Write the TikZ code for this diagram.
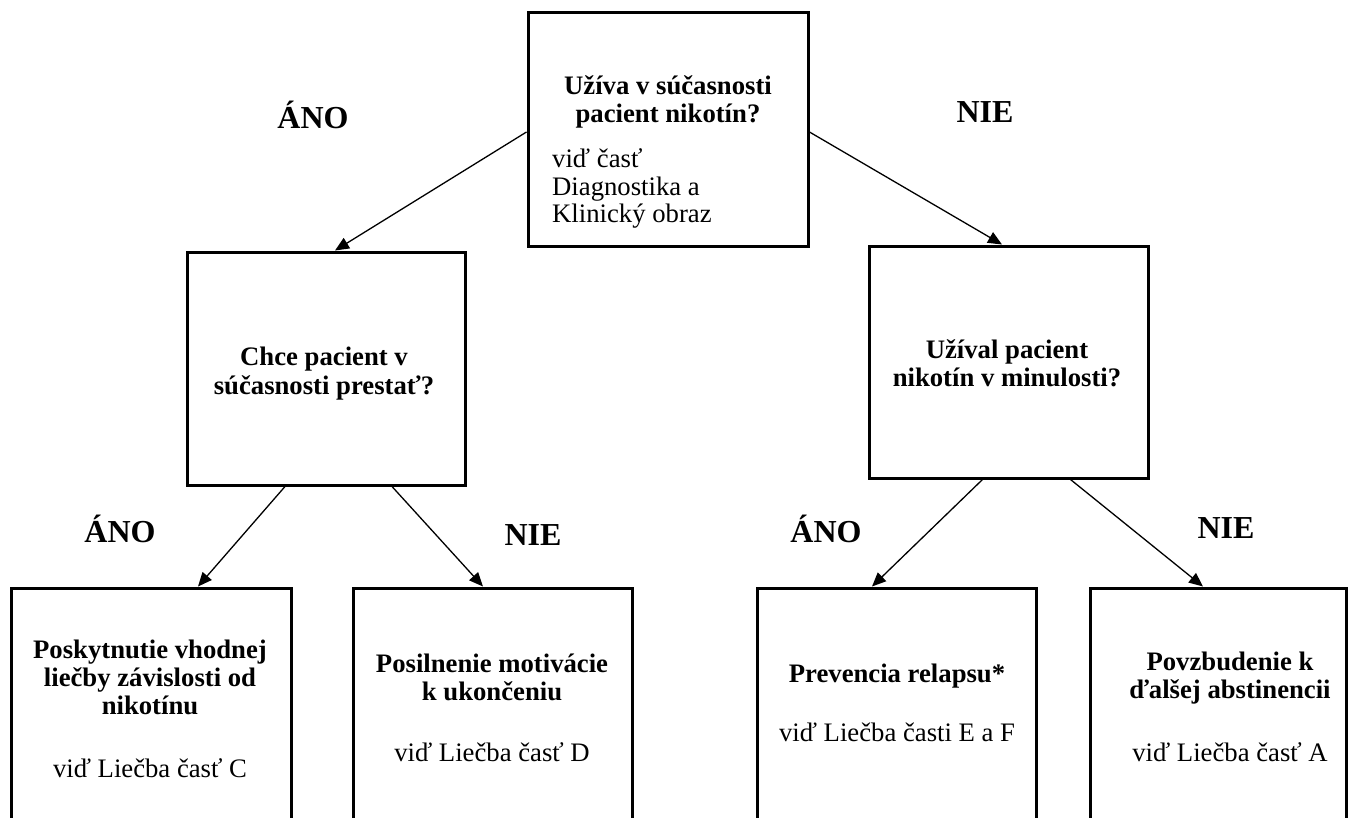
\documentclass[tikz,border=0pt]{standalone}
\usepackage{fontspec}
\setmainfont{Liberation Serif}
\usetikzlibrary{arrows.meta,calc}
\begin{document}
\begin{tikzpicture}[x=1pt,y=-1pt,
  box/.style={draw,line width=3pt,inner sep=0pt,rectangle},
  arr/.style={line width=1.3pt,-{Triangle[length=14pt,width=12pt]}},
  lab/.style={font=\fontsize{32}{36}\selectfont\bfseries,anchor=base,inner sep=0pt},
  bt/.style={font=\fontsize{26.7}{28}\selectfont\bfseries,anchor=base,inner sep=0pt},
  rt/.style={font=\fontsize{26.7}{28}\selectfont,anchor=base,inner sep=0pt}]
\useasboundingbox (0,0) rectangle (1348,817);
\clip (0,0) rectangle (1348,817);
% boxes
\node[box,minimum width=280,minimum height=234] (top) at (668,129) {};
\node[box,minimum width=278,minimum height=233] (lm) at (326,368.5) {};
\node[box,minimum width=279,minimum height=232] (rm) at (1008.5,362) {};
\node[box,minimum width=280,minimum height=250] (b1) at (151,713) {};
\node[box,minimum width=279,minimum height=250] (b2) at (492.5,713) {};
\node[box,minimum width=279,minimum height=250] (b3) at (896.5,713) {};
\node[box,minimum width=256,minimum height=250] (b4) at (1218,713) {};
% connectors
\draw[arr] ([yshift=-3pt]top.west) -- ([xshift=9pt]lm.north);
\draw[arr] ([yshift=-3pt]top.east) -- ([xshift=-6.5pt]rm.north);
\draw[arr] ([xshift=-41pt]lm.south) -- ([xshift=47pt]b1.north);
\draw[arr] ([xshift=66pt]lm.south) -- ([xshift=-9.5pt]b2.north);
\draw[arr] ([xshift=-26pt]rm.south) -- ([xshift=-24.5pt]b3.north);
\draw[arr] ([xshift=62pt]rm.south) -- ([xshift=-15pt]b4.north);
% branch labels
\node[lab] (l1) at (313,128) {ÁNO};
\node[lab] (l2) at (985,122) {NIE};
\node[lab] (l3) at (120,542) {ÁNO};
\node[lab] (l4) at (533,545) {NIE};
\node[lab] (l5) at (826,542) {ÁNO};
\node[lab] (l6) at (1226,538) {NIE};
% top box text
\node[bt] (ta) at (668,94) {Užíva v súčasnosti};
\node[bt] (tb) at (668,122) {pacient nikotín?};
\node[rt,anchor=base west] (tc) at (552,167) {viď časť};
\node[rt,anchor=base west] (td) at (552,195) {Diagnostika a};
\node[rt,anchor=base west] (te) at (552,222) {Klinický obraz};
% middle boxes text
\node[bt] (la) at (324,365) {Chce pacient v};
\node[bt] (lb) at (324,394) {súčasnosti prestať?};
\node[bt] (ra) at (1007,358) {Užíval pacient};
\node[bt] (rb) at (1007,386) {nikotín v minulosti?};
% bottom boxes text
\node[bt] (p1) at (150,658) {Poskytnutie vhodnej};
\node[bt] (p2) at (150,686) {liečby závislosti od};
\node[bt] (p3) at (150,714) {nikotínu};
\node[rt] (p4) at (150,777) {viď Liečba časť C};
\node[bt] (q1) at (492,672) {Posilnenie motivácie};
\node[bt] (q2) at (492,700) {k ukončeniu};
\node[rt] (q3) at (492,761) {viď Liečba časť D};
\node[bt] (r1) at (897,682) {Prevencia relapsu*};
\node[rt] (r2) at (897,741) {viď Liečba časti E a F};
\node[bt] (s1) at (1230,670) {Povzbudenie k};
\node[bt] (s2) at (1230,698) {ďalšej abstinencii};
\node[rt] (s3) at (1230,761) {viď Liečba časť A};
\end{tikzpicture}
\end{document}
